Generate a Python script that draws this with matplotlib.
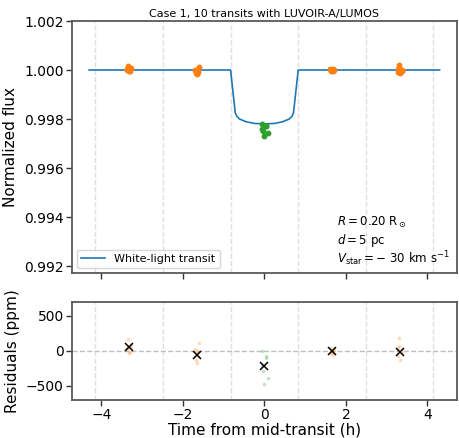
import matplotlib
matplotlib.use("Agg")
import matplotlib.pyplot as plt
import numpy as np

# model light curve (time in h, normalized flux)
model_t = [-4.3, -0.83, -0.715, -0.68, -0.61, -0.45, -0.25, 0.0,
           0.25, 0.45, 0.61, 0.68, 0.715, 0.83, 4.3]
model_f = [1.0, 1.0, 0.99826, 0.99812, 0.99800, 0.99789, 0.99782, 0.99780,
           0.99782, 0.99789, 0.99800, 0.99812, 0.99826, 1.0, 1.0]

# bin centres, bin edges and in/out of transit
bin_t = [-3.32, -1.66, 0.0, 1.66, 3.32]
bin_level = [1.0, 1.0, 0.9978, 1.0, 1.0]
bin_mean = [55, -55, -222, 0, -14]   # ppm
edges = [-4.15, -2.49, -0.83, 0.83, 2.49, 4.15]

# individual points: time offsets (h) and residuals (ppm)
dt = [
    [-0.03, 0.05, 0.02, -0.06, -0.04, 0.03, 0.0],
    [0.06, -0.04, 0.0, -0.02, 0.03, -0.03, 0.01],
    [-0.07, 0.03, 0.05, -0.05, -0.04, 0.08, 0.0],
    [-0.04, 0.02, 0.05, -0.01, -0.03, 0.03],
    [-0.02, -0.02, 0.06, 0.05, -0.04, 0.02, -0.05],
]
resid = [
    [165, 80, 60, 40, 15, -20, -30],
    [115, 20, 0, -30, -80, -135, -180],
    [0, -80, -100, -200, -285, -385, -475],
    [40, 30, 10, -10, -35, -60],
    [190, 70, 20, -30, -70, -125, 40],
]
colors = ["tab:orange", "tab:orange", "tab:green", "tab:orange", "tab:orange"]

fig = plt.figure(figsize=(4.59, 4.38), dpi=100)
ax1 = fig.add_axes([0.157, 0.377, 0.838, 0.575])
ax2 = fig.add_axes([0.157, 0.087, 0.838, 0.224])

for ax in (ax1, ax2):
    for e in edges:
        ax.axvline(e, color="0.88", ls="--", lw=1.0, zorder=0)
    for s in ax.spines.values():
        s.set_color("0.35")
        s.set_linewidth(1.3)
    ax.set_xlim(-4.72, 4.72)
    ax.tick_params(labelsize=10, length=4, width=1, color="0.2", pad=2)

ax1.plot(model_t, model_f, color="tab:blue", lw=1.2, label="White-light transit", zorder=2)
for i in range(5):
    t = np.array(dt[i]) + bin_t[i]
    f = bin_level[i] + np.array(resid[i]) * 1e-6
    ax1.plot(t, f, "o", color=colors[i], ms=3.2, zorder=3)
    ax2.plot(t, resid[i], "o", color=colors[i], ms=2.5, alpha=0.3, mew=0, zorder=2)
    ax2.plot(bin_t[i], bin_mean[i], "x", color="k", ms=6, mew=1.1, zorder=4)

ax1.set_ylim(0.99172, 1.002)
ax1.set_yticks([0.992, 0.994, 0.996, 0.998, 1.000, 1.002])
ax1.set_xticks([-4, -2, 0, 2, 4])
ax1.set_xticklabels([])
ax1.set_ylabel("Normalized flux", fontsize=11)
ax1.set_title("Case 1, 10 transits with LUVOIR-A/LUMOS", fontsize=8, pad=3)
ax1.legend(loc="lower left", fontsize=8, handlelength=2.2, borderaxespad=0.4)

tx = 0.69
ax1.text(tx, 0.187, r"$R = 0.20\ \mathrm{R}_\odot$", transform=ax1.transAxes, fontsize=8.5)
ax1.text(tx, 0.113, r"$d = 5$ pc", transform=ax1.transAxes, fontsize=8.5)
ax1.text(tx, 0.04, r"$V_\mathrm{star} = -\ 30$ km s$^{-1}$", transform=ax1.transAxes, fontsize=8.5)

ax2.axhline(0, color="0.75", ls="--", lw=1.0, zorder=1)
ax2.set_ylim(-700, 700)
ax2.set_yticks([-500, 0, 500])
ax2.set_xticks([-4, -2, 0, 2, 4])
ax2.set_ylabel("Residuals (ppm)", fontsize=11)
ax2.set_xlabel("Time from mid-transit (h)", fontsize=11, labelpad=0)

fig.savefig("out.png", dpi=100)
